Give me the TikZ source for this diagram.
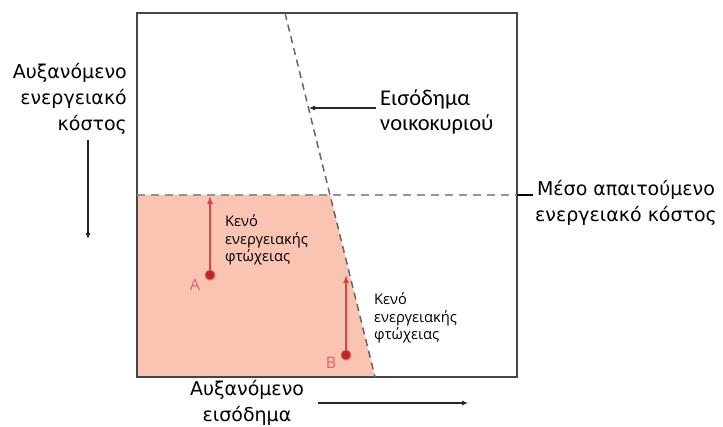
\documentclass[tikz,border=0pt]{standalone}
\usepackage{fontspec}
\setmainfont{DejaVu Sans}
\newfontfamily\axisfont{DejaVu Sans}
\newfontfamily\incfont{Carlito}
\newfontfamily\gapfont{Open Sans}
\usetikzlibrary{arrows.meta}

\definecolor{gapfill}{RGB}{249,196,178}
\definecolor{gapred}{RGB}{214,70,62}
\definecolor{dotred}{RGB}{196,36,38}
\definecolor{ptpink}{RGB}{228,96,110}
\definecolor{framegray}{RGB}{70,70,70}

\tikzset{
  frame/.style={draw=framegray, line width=1.4pt},
  incdash/.style={draw=black!60, line width=1.5pt, dash pattern=on 7pt off 5pt},
  middash/.style={draw=black!42, line width=1.5pt, dash pattern=on 8pt off 6pt},
  blackarrow/.style={draw=black!85, line width=1.1pt, -{Latex[length=6pt,width=5pt]}},
  redarrow/.style={draw=gapred, line width=1.3pt, -{Latex[length=8pt,width=6pt]}},
  dot/.style={circle, fill=dotred, draw=gapred!80, line width=0.8pt, minimum size=10pt, inner sep=0pt},
  ptlabel/.style={text=ptpink, font=\gapfont\fontsize{16}{18}\selectfont},
  gaptext/.style={align=left, anchor=west, inner sep=0pt, font=\gapfont\fontsize{14.7}{17.5}\selectfont},
  axistext/.style={inner sep=0pt, font=\axisfont\fontsize{19}{26}\selectfont},
  inctext/.style={align=left, anchor=west, inner sep=0pt, font=\incfont\fontsize{22.5}{25}\selectfont}
}

\begin{document}
\begin{tikzpicture}[x=1pt, y=-1pt]
\useasboundingbox (0,0) rectangle (723,427);

% frame corners and the two reference lines
\coordinate (tl) at (137,13);
\coordinate (br) at (517,377);
\coordinate (incTop) at (285,13);
\coordinate (incBot) at (375,377);
\coordinate (midL) at (137,195);
\coordinate (midX) at (330,195);
\coordinate (midR) at (517,195);
\coordinate (tickEnd) at (533,195);

% energy poverty gap area
\fill[gapfill] (midL) -- (midX) -- (incBot) -- (137,377) -- cycle;

% frame
\draw[frame] (tl) rectangle (br);

% household income line and average required cost line
\draw[incdash] (incTop) -- (incBot);
\draw[middash] (midL) -- (midR);
\draw[line width=2.4pt] (midR) -- (tickEnd);

% households A and B
\node[dot] (A) at (210,275) {};
\node[dot] (B) at (346,355) {};
\coordinate (Atop) at (210,196);
\coordinate (Btop) at (346,275);
\draw[redarrow] (A) -- (Atop);
\draw[redarrow] (B) -- (Btop);
\node[ptlabel] (Alab) at (195,285) {A};
\node[ptlabel] (Blab) at (331,363) {B};

% gap labels
\node[gaptext] (gapA) at (225,240) {Κενό\\ενεργειακής\\φτώχειας};
\node[gaptext] (gapB) at (374,318) {Κενό\\ενεργειακής\\φτώχειας};

% income label with pointer
\node[inctext] (inc) at (380,112) {Εισόδημα\\νοικοκυριού};
\coordinate (incS) at (376,108);
\coordinate (incE) at (309,108);
\draw[blackarrow] (incS) -- (incE);

% average required energy cost label
\node[axistext, align=center] (avg) at (626,203) {Μέσο απαιτούμενο\\ενεργειακό κόστος};

% vertical axis label and arrow
\node[axistext, align=right, anchor=east] (ylab) at (127,99) {Αυξανόμενο\\ενεργειακό\\κόστος};
\coordinate (yS) at (88,140);
\coordinate (yE) at (88,239);
\draw[blackarrow] (yS) -- (yE);

% horizontal axis label and arrow
\node[axistext, align=center] (xlab) at (247,403) {Αυξανόμενο\\εισόδημα};
\coordinate (xS) at (318,403);
\coordinate (xE) at (468,403);
\draw[blackarrow] (xS) -- (xE);
\end{tikzpicture}
\end{document}
